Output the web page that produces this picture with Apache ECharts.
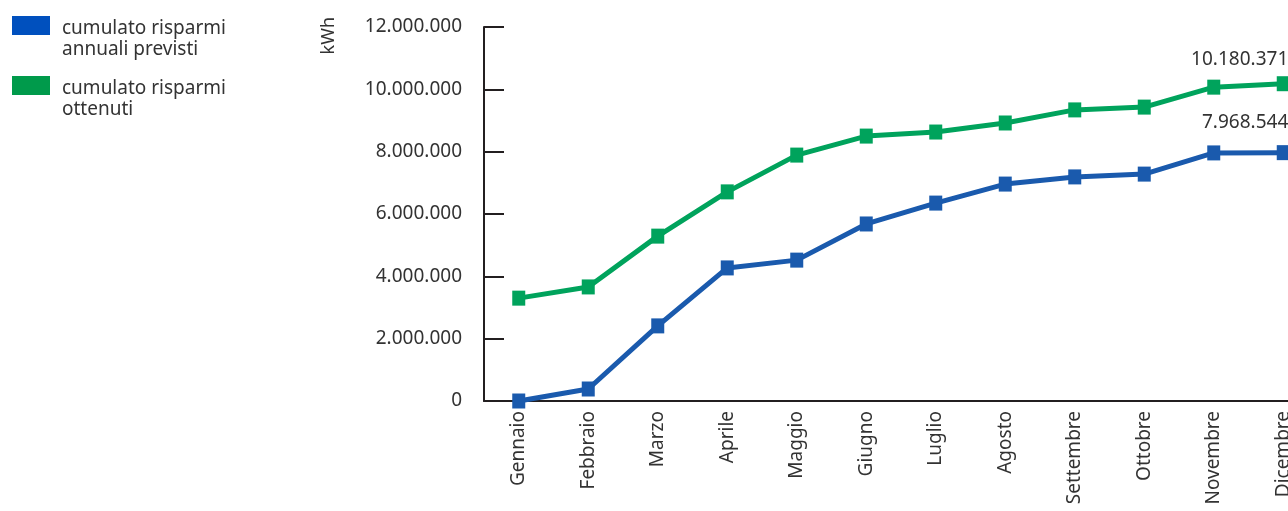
<!DOCTYPE html>
<html>
<head>
<meta charset="utf-8">
<script src="https://cdn.jsdelivr.net/npm/echarts@6/dist/echarts.min.js"></script>
<style>
  html, body { margin: 0; padding: 0; background: #fff; }
  #chart { width: 1288px; height: 511px; }
</style>
</head>
<body>
<div id="chart"></div>
<script>
  // dati
  const mesi = ['Gennaio', 'Febbraio', 'Marzo', 'Aprile', 'Maggio', 'Giugno',
    'Luglio', 'Agosto', 'Settembre', 'Ottobre', 'Novembre', 'Dicembre']
  const previsti = [0, 385000, 2410000, 4270000, 4520000, 5680000,
    6350000, 6960000, 7190000, 7280000, 7960000, 7968544]
  const ottenuti = [3300000, 3660000, 5290000, 6710000, 7890000, 8500000,
    8630000, 8920000, 9340000, 9430000, 10070000, 10180371]
  const nomi = ['cumulato risparmi\nannuali previsti', 'cumulato risparmi\nottenuti']

  const testo = '#333'
  const font = 'Noto Sans'

  function fmt(v) {
    return String(v).replace(/\B(?=(\d{3})+(?!\d))/g, '.')
  }

  // solo l'ultimo punto ha l'etichetta
  function conEtichetta(arr, dy) {
    return arr.map(function (v, i) {
      if (i !== arr.length - 1) return v
      return {
        value: v,
        label: {
          show: true, position: 'top', align: 'right',
          offset: [5, dy], formatter: fmt(v),
          fontFamily: font, fontSize: 19, color: testo
        }
      }
    })
  }

  let chart = echarts.init(document.getElementById('chart'))
  chart.setOption({
    animation: false,
    legend: {
      orient: 'vertical', left: 12, top: -5, padding: 0,
      icon: 'rect', itemWidth: 38, itemHeight: 19, itemGap: -4,
      selectedMode: false,
      data: [
        { name: nomi[0], itemStyle: { color: '#0050be' } },
        { name: nomi[1], itemStyle: { color: '#009a4b' } }
      ],
      // riga vuota sopra: l'icona resta allineata alla prima riga
      formatter: function (n) {
        return '{s| }\n' + n.split('\n').map(function (r) { return '{t|' + r + '}' }).join('\n')
      },
      textStyle: {
        fontFamily: font, fontSize: 19, color: testo,
        padding: [0, 0, 0, 7],
        rich: {
          s: { lineHeight: 27, fontSize: 19 },
          t: { lineHeight: 21, fontSize: 19, fontFamily: font, color: testo }
        }
      }
    },
    graphic: [{
      type: 'text', left: 320, top: 17, rotation: Math.PI / 2,
      style: { text: 'kWh', fontFamily: font, fontSize: 18, fill: testo }
    }],
    grid: { left: 484, top: 27, bottom: 110, width: 834, outerBoundsMode: 'none', containLabel: false },
    xAxis: {
      type: 'category',
      data: mesi,
      axisLine: { lineStyle: { color: '#231f20', width: 2 } },
      axisTick: { inside: true, length: 9, alignWithLabel: true, lineStyle: { color: '#231f20', width: 2 } },
      axisLabel: { rotate: 90, margin: 10, fontFamily: font, fontSize: 19, color: testo }
    },
    yAxis: {
      type: 'value',
      min: 0, max: 12000000, interval: 2000000,
      splitLine: { show: false },
      axisLine: { show: true, lineStyle: { color: '#231f20', width: 2 } },
      axisTick: { show: true, inside: true, length: 20, lineStyle: { color: '#231f20', width: 2 } },
      axisLabel: { margin: 22, fontFamily: font, fontSize: 19, color: testo, formatter: fmt, padding: [0, 0, 5, 0] }
    },
    series: [
      {
        name: nomi[0], type: 'line',
        data: conEtichetta(previsti, -8),
        symbol: 'rect', symbolSize: [13, 15],
        color: '#1a5aad',
        itemStyle: { color: '#1a5aad' },
        lineStyle: { color: '#1a5aad', width: 5 },
        z: 3
      },
      {
        name: nomi[1], type: 'line',
        data: conEtichetta(ottenuti, -2),
        symbol: 'rect', symbolSize: [13, 15],
        color: '#00a35c',
        itemStyle: { color: '#00a35c' },
        lineStyle: { color: '#00a35c', width: 5 },
        z: 2
      }
    ]
  })
</script>
</body>
</html>
